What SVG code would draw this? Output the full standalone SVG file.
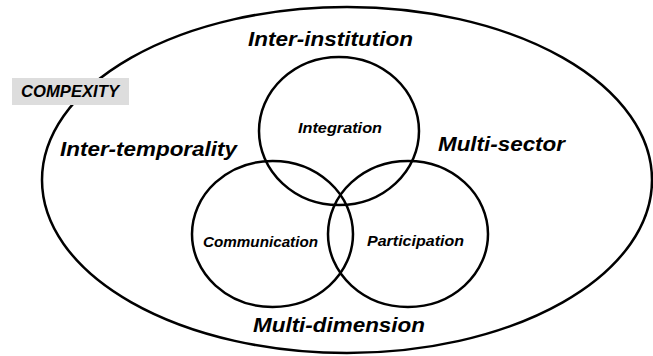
<svg xmlns="http://www.w3.org/2000/svg" width="653" height="356" viewBox="0 0 653 356">
<style>
.shape{fill:none;stroke:#000;stroke-width:2.5}
.t{font-family:"Liberation Sans",Arial,sans-serif;font-weight:bold;font-style:italic;fill:#000}
.big{font-size:21px}
.small{font-size:15px}
</style>
<rect width="653" height="356" fill="#fff"/>
<g id="outer">
<ellipse class="shape" cx="347" cy="180" rx="305" ry="173"/>
</g>
<g id="label-box">
<rect x="12" y="78" width="117" height="27" fill="#dddddd"/>
<text class="t" x="21" y="96.5" font-size="17" textLength="98" lengthAdjust="spacingAndGlyphs">COMPEXITY</text>
</g>
<g id="integration">
<ellipse class="shape" cx="339" cy="131" rx="80" ry="74"/>
<text class="t small" x="298" y="133" textLength="84" lengthAdjust="spacingAndGlyphs">Integration</text>
</g>
<g id="communication">
<ellipse class="shape" cx="272.5" cy="234" rx="80.5" ry="73"/>
<text class="t small" x="203" y="247" textLength="115" lengthAdjust="spacingAndGlyphs">Communication</text>
</g>
<g id="participation">
<ellipse class="shape" cx="408" cy="234" rx="80" ry="73"/>
<text class="t small" x="367" y="246" textLength="97" lengthAdjust="spacingAndGlyphs">Participation</text>
</g>
<g id="labels">
<text class="t big" x="248" y="46" textLength="165" lengthAdjust="spacingAndGlyphs">Inter-institution</text>
<text class="t big" x="60" y="156" textLength="177" lengthAdjust="spacingAndGlyphs">Inter-temporality</text>
<text class="t big" x="438" y="151" textLength="127" lengthAdjust="spacingAndGlyphs">Multi-sector</text>
<text class="t big" x="253" y="332" textLength="172" lengthAdjust="spacingAndGlyphs">Multi-dimension</text>
</g>
</svg>
